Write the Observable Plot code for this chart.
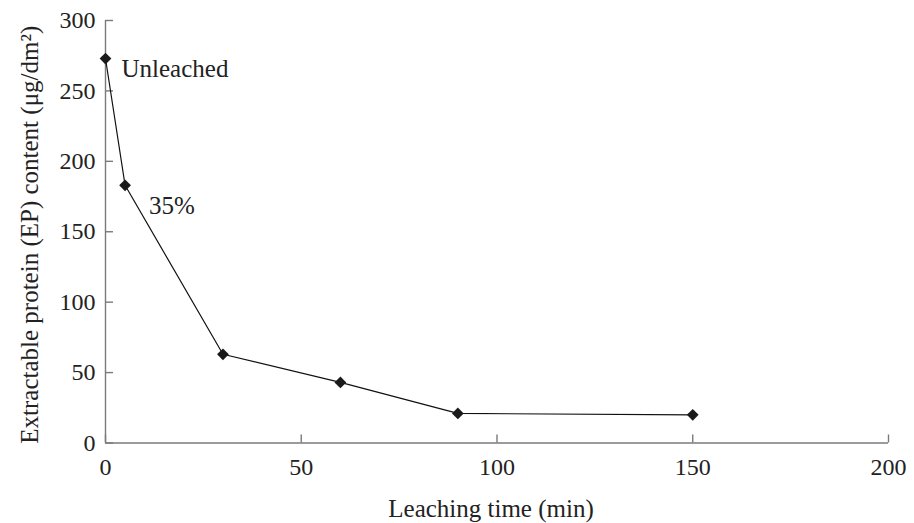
<!DOCTYPE html>
<html>
<head>
<meta charset="utf-8">
<script src="https://cdn.jsdelivr.net/npm/d3@7"></script>
<script src="https://cdn.jsdelivr.net/npm/@observablehq/plot@0.6"></script>
<style>
  html, body { margin: 0; padding: 0; background: #fff; }
  #chart svg { display: block; }
</style>
</head>
<body>
<div id="chart"></div>
<script>
const leachingTime = [0, 5, 30, 60, 90, 150];
const proteinContent = [273, 183, 63, 43, 21, 20];
const xTicks = [0, 50, 100, 150, 200];
const yTicks = [0, 50, 100, 150, 200, 250, 300];
const pointLabels = ["Unleached", "35%"];
const xTitle = "Leaching time (min)";
const yTitle = "Extractable protein (EP) content (\u03bcg/dm\u00b2)";

const data = leachingTime.map((t, i) => ({t, p: proteinContent[i]}));
const labelled = pointLabels.map((s, i) => ({...data[i], s}));

const axisColor = "#7a7a7a";
const font = "'Liberation Serif', 'Times New Roman', serif";

const chart = Plot.plot({
  width: 914,
  height: 523,
  marginLeft: 105,
  marginRight: 26,
  marginTop: 20,
  marginBottom: 80.5,
  style: {fontFamily: font, fontSize: "23px", color: "#222", background: "#fff"},
  x: {domain: [0, 200], ticks: xTicks, label: null},
  y: {domain: [0, 300], ticks: yTicks, label: null},
  marks: [
    Plot.ruleY([0], {stroke: axisColor, strokeWidth: 1.4}),
    Plot.ruleX([0], {stroke: axisColor, strokeWidth: 1.4}),
    Plot.axisX(xTicks, {tickSize: -8, fill: "none", stroke: axisColor, strokeWidth: 1.4, label: null}),
    Plot.axisY(yTicks, {tickSize: -8, fill: "none", stroke: axisColor, strokeWidth: 1.4, label: null}),
    Plot.axisX(xTicks, {tickSize: 0, tickPadding: 15, fill: "#222", label: null, fontSize: 24}),
    Plot.axisY(yTicks, {tickSize: 0, tickPadding: 10, fill: "#222", label: null, fontSize: 24}),
    Plot.line(data, {x: "t", y: "p", stroke: "#111", strokeWidth: 1.2}),
    Plot.dot(data, {x: "t", y: "p", symbol: "diamond2", r: 5.3, fill: "#1a1a1a", stroke: "none"}),
    Plot.text(labelled.slice(0, 1), {x: "t", y: "p", text: "s", textAnchor: "start", dx: 16, dy: 10, fontSize: 25, fill: "#222"}),
    Plot.text(labelled.slice(1, 2), {x: "t", y: "p", text: "s", textAnchor: "start", dx: 24, dy: 21, fontSize: 25, fill: "#222"}),
    Plot.text([xTitle], {frameAnchor: "bottom", text: d => d, textAnchor: "middle", dx: -6, dy: 74, fontSize: 25, fill: "#222"}),
    Plot.text([yTitle], {frameAnchor: "left", text: d => d, textAnchor: "middle", rotate: -90, dx: -76, dy: 3, fontSize: 25, fill: "#222"})
  ]
});
document.getElementById("chart").appendChild(chart);
</script>
</body>
</html>
